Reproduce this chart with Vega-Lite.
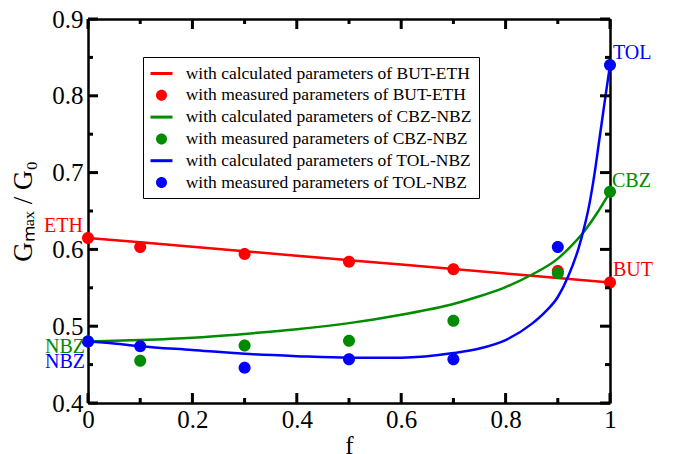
{
  "$schema": "https://vega.github.io/schema/vega-lite/v6.json",
  "width": 522,
  "height": 384,
  "autosize": "none",
  "padding": {"left": 88, "top": 19, "right": 68, "bottom": 51},
  "background": "white",
  "config": {
    "font": "Liberation Serif",
    "view": {"stroke": null},
    "axis": {
      "grid": false,
      "domainColor": "black",
      "domainWidth": 2.5,
      "labelFont": "Liberation Serif",
      "labelFontSize": 25,
      "labelColor": "black",
      "titleFont": "Liberation Serif",
      "titleFontSize": 25,
      "titleFontWeight": "normal",
      "titleColor": "black"
    }
  },
  "resolve": {
    "axis": {"x": "independent", "y": "independent"},
    "legend": {"color": "independent", "shape": "independent"}
  },
  "datasets": {
    "xticks": [
      {"v": 0.0, "kind": "major", "lo": 0.4, "hi": 0.9}, {"v": 0.1, "kind": "minor", "lo": 0.4, "hi": 0.9},
      {"v": 0.2, "kind": "major", "lo": 0.4, "hi": 0.9}, {"v": 0.3, "kind": "minor", "lo": 0.4, "hi": 0.9},
      {"v": 0.4, "kind": "major", "lo": 0.4, "hi": 0.9}, {"v": 0.5, "kind": "minor", "lo": 0.4, "hi": 0.9},
      {"v": 0.6, "kind": "major", "lo": 0.4, "hi": 0.9}, {"v": 0.7, "kind": "minor", "lo": 0.4, "hi": 0.9},
      {"v": 0.8, "kind": "major", "lo": 0.4, "hi": 0.9}, {"v": 0.9, "kind": "minor", "lo": 0.4, "hi": 0.9},
      {"v": 1.0, "kind": "major", "lo": 0.4, "hi": 0.9}
    ],
    "yticks": [
      {"v": 0.4, "kind": "major", "lo": 0, "hi": 1}, {"v": 0.45, "kind": "minor", "lo": 0, "hi": 1},
      {"v": 0.5, "kind": "major", "lo": 0, "hi": 1}, {"v": 0.55, "kind": "minor", "lo": 0, "hi": 1},
      {"v": 0.6, "kind": "major", "lo": 0, "hi": 1}, {"v": 0.65, "kind": "minor", "lo": 0, "hi": 1},
      {"v": 0.7, "kind": "major", "lo": 0, "hi": 1}, {"v": 0.75, "kind": "minor", "lo": 0, "hi": 1},
      {"v": 0.8, "kind": "major", "lo": 0, "hi": 1}, {"v": 0.85, "kind": "minor", "lo": 0, "hi": 1},
      {"v": 0.9, "kind": "major", "lo": 0, "hi": 1}
    ],
    "curves": [
      {"f": 0.0, "G": 0.615, "series": "with calculated parameters of BUT-ETH"},
      {"f": 0.1, "G": 0.6092, "series": "with calculated parameters of BUT-ETH"},
      {"f": 0.2, "G": 0.6034, "series": "with calculated parameters of BUT-ETH"},
      {"f": 0.3, "G": 0.5976, "series": "with calculated parameters of BUT-ETH"},
      {"f": 0.4, "G": 0.5918, "series": "with calculated parameters of BUT-ETH"},
      {"f": 0.5, "G": 0.586, "series": "with calculated parameters of BUT-ETH"},
      {"f": 0.6, "G": 0.5802, "series": "with calculated parameters of BUT-ETH"},
      {"f": 0.7, "G": 0.5744, "series": "with calculated parameters of BUT-ETH"},
      {"f": 0.8, "G": 0.5686, "series": "with calculated parameters of BUT-ETH"},
      {"f": 0.9, "G": 0.5628, "series": "with calculated parameters of BUT-ETH"},
      {"f": 1.0, "G": 0.557, "series": "with calculated parameters of BUT-ETH"},
      {"f": 0.0, "G": 0.480, "series": "with calculated parameters of CBZ-NBZ"},
      {"f": 0.1, "G": 0.482, "series": "with calculated parameters of CBZ-NBZ"},
      {"f": 0.2, "G": 0.485, "series": "with calculated parameters of CBZ-NBZ"},
      {"f": 0.3, "G": 0.490, "series": "with calculated parameters of CBZ-NBZ"},
      {"f": 0.4, "G": 0.496, "series": "with calculated parameters of CBZ-NBZ"},
      {"f": 0.5, "G": 0.504, "series": "with calculated parameters of CBZ-NBZ"},
      {"f": 0.6, "G": 0.515, "series": "with calculated parameters of CBZ-NBZ"},
      {"f": 0.7, "G": 0.529, "series": "with calculated parameters of CBZ-NBZ"},
      {"f": 0.75, "G": 0.539, "series": "with calculated parameters of CBZ-NBZ"},
      {"f": 0.8, "G": 0.551, "series": "with calculated parameters of CBZ-NBZ"},
      {"f": 0.85, "G": 0.567, "series": "with calculated parameters of CBZ-NBZ"},
      {"f": 0.9, "G": 0.588, "series": "with calculated parameters of CBZ-NBZ"},
      {"f": 0.925, "G": 0.604, "series": "with calculated parameters of CBZ-NBZ"},
      {"f": 0.95, "G": 0.623, "series": "with calculated parameters of CBZ-NBZ"},
      {"f": 0.975, "G": 0.647, "series": "with calculated parameters of CBZ-NBZ"},
      {"f": 1.0, "G": 0.675, "series": "with calculated parameters of CBZ-NBZ"},
      {"f": 0.0, "G": 0.480, "series": "with calculated parameters of TOL-NBZ"},
      {"f": 0.05, "G": 0.4775, "series": "with calculated parameters of TOL-NBZ"},
      {"f": 0.1, "G": 0.474, "series": "with calculated parameters of TOL-NBZ"},
      {"f": 0.2, "G": 0.469, "series": "with calculated parameters of TOL-NBZ"},
      {"f": 0.3, "G": 0.464, "series": "with calculated parameters of TOL-NBZ"},
      {"f": 0.4, "G": 0.461, "series": "with calculated parameters of TOL-NBZ"},
      {"f": 0.5, "G": 0.459, "series": "with calculated parameters of TOL-NBZ"},
      {"f": 0.6, "G": 0.459, "series": "with calculated parameters of TOL-NBZ"},
      {"f": 0.7, "G": 0.465, "series": "with calculated parameters of TOL-NBZ"},
      {"f": 0.75, "G": 0.471, "series": "with calculated parameters of TOL-NBZ"},
      {"f": 0.8, "G": 0.482, "series": "with calculated parameters of TOL-NBZ"},
      {"f": 0.85, "G": 0.503, "series": "with calculated parameters of TOL-NBZ"},
      {"f": 0.875, "G": 0.518, "series": "with calculated parameters of TOL-NBZ"},
      {"f": 0.9, "G": 0.538, "series": "with calculated parameters of TOL-NBZ"},
      {"f": 0.92, "G": 0.565, "series": "with calculated parameters of TOL-NBZ"},
      {"f": 0.94, "G": 0.602, "series": "with calculated parameters of TOL-NBZ"},
      {"f": 0.95, "G": 0.627, "series": "with calculated parameters of TOL-NBZ"},
      {"f": 0.96, "G": 0.657, "series": "with calculated parameters of TOL-NBZ"},
      {"f": 0.97, "G": 0.697, "series": "with calculated parameters of TOL-NBZ"},
      {"f": 0.98, "G": 0.745, "series": "with calculated parameters of TOL-NBZ"},
      {"f": 0.99, "G": 0.793, "series": "with calculated parameters of TOL-NBZ"},
      {"f": 1.0, "G": 0.840, "series": "with calculated parameters of TOL-NBZ"}
    ],
    "measured": [
      {"f": 0.0, "G": 0.615, "series": "with measured parameters of BUT-ETH"},
      {"f": 0.1, "G": 0.603, "series": "with measured parameters of BUT-ETH"},
      {"f": 0.3, "G": 0.594, "series": "with measured parameters of BUT-ETH"},
      {"f": 0.5, "G": 0.584, "series": "with measured parameters of BUT-ETH"},
      {"f": 0.7, "G": 0.574, "series": "with measured parameters of BUT-ETH"},
      {"f": 0.9, "G": 0.572, "series": "with measured parameters of BUT-ETH"},
      {"f": 1.0, "G": 0.557, "series": "with measured parameters of BUT-ETH"},
      {"f": 0.0, "G": 0.480, "series": "with measured parameters of CBZ-NBZ"},
      {"f": 0.1, "G": 0.455, "series": "with measured parameters of CBZ-NBZ"},
      {"f": 0.3, "G": 0.475, "series": "with measured parameters of CBZ-NBZ"},
      {"f": 0.5, "G": 0.481, "series": "with measured parameters of CBZ-NBZ"},
      {"f": 0.7, "G": 0.507, "series": "with measured parameters of CBZ-NBZ"},
      {"f": 0.9, "G": 0.569, "series": "with measured parameters of CBZ-NBZ"},
      {"f": 1.0, "G": 0.675, "series": "with measured parameters of CBZ-NBZ"},
      {"f": 0.0, "G": 0.480, "series": "with measured parameters of TOL-NBZ"},
      {"f": 0.1, "G": 0.474, "series": "with measured parameters of TOL-NBZ"},
      {"f": 0.3, "G": 0.446, "series": "with measured parameters of TOL-NBZ"},
      {"f": 0.5, "G": 0.457, "series": "with measured parameters of TOL-NBZ"},
      {"f": 0.7, "G": 0.457, "series": "with measured parameters of TOL-NBZ"},
      {"f": 0.9, "G": 0.603, "series": "with measured parameters of TOL-NBZ"},
      {"f": 1.0, "G": 0.840, "series": "with measured parameters of TOL-NBZ"}
    ],
    "labels": [
      {"f": 0.0, "G": 0.615, "label": "ETH", "system": "BUT-ETH"},
      {"f": 1.0, "G": 0.557, "label": "BUT", "system": "BUT-ETH"},
      {"f": 0.0, "G": 0.480, "label": "NBZ", "system": "CBZ-NBZ"},
      {"f": 1.0, "G": 0.675, "label": "CBZ", "system": "CBZ-NBZ"},
      {"f": 0.0, "G": 0.480, "label": "NBZ", "system": "TOL-NBZ"},
      {"f": 1.0, "G": 0.840, "label": "TOL", "system": "TOL-NBZ"}
    ]
  },
  "layer": [
    {
      "data": {"name": "curves"},
      "mark": {"type": "line", "strokeWidth": 2.5, "interpolate": "monotone"},
      "encoding": {
        "x": {
          "field": "f", "type": "quantitative",
          "scale": {"domain": [0, 1], "nice": false, "zero": false},
          "axis": {
            "orient": "bottom", "title": "f", "titlePadding": 1,
            "values": [0, 0.2, 0.4, 0.6, 0.8, 1], "format": "~g",
            "ticks": false, "labelPadding": 4, "labelFlush": false, "labelOverlap": false
          }
        },
        "y": {
          "field": "G", "type": "quantitative",
          "scale": {"domain": [0.4, 0.9], "nice": false, "zero": false},
          "axis": {
            "orient": "left", "title": "Gₘₐₓ / G₀", "titleFontSize": 27, "titlePadding": 14,
            "values": [0.4, 0.5, 0.6, 0.7, 0.8, 0.9], "format": ".1f",
            "ticks": false, "labelPadding": 5, "labelFlush": false, "labelOverlap": false
          }
        },
        "color": {
          "field": "series", "type": "nominal", "legend": null,
          "scale": {
            "domain": [
              "with calculated parameters of BUT-ETH", "with measured parameters of BUT-ETH",
              "with calculated parameters of CBZ-NBZ", "with measured parameters of CBZ-NBZ",
              "with calculated parameters of TOL-NBZ", "with measured parameters of TOL-NBZ"
            ],
            "range": ["#ff0000", "#ff0000", "#008b00", "#008b00", "#0000ff", "#0000ff"]
          }
        }
      }
    },
    {
      "data": {"name": "measured"},
      "mark": {"type": "point", "filled": true, "opacity": 1, "size": 357},
      "encoding": {
        "x": {
          "field": "f", "type": "quantitative",
          "axis": {"orient": "top", "title": null, "labels": false, "ticks": false}
        },
        "y": {
          "field": "G", "type": "quantitative",
          "axis": {"orient": "right", "title": null, "labels": false, "ticks": false}
        },
        "color": {
          "field": "series", "type": "nominal",
          "legend": {
            "orient": "none", "legendX": 55, "legendY": 38, "title": null,
            "symbolSize": 300, "symbolOffset": 2, "labelFontSize": 17.5, "labelFont": "Liberation Serif",
            "labelColor": "black", "labelOffset": 14.7, "rowPadding": 3.8, "padding": 7,
            "strokeColor": "black", "labelLimit": 0,
            "encode": {"legend": {"update": {"strokeWidth": {"value": 2}}}}
          }
        },
        "shape": {
          "field": "series", "type": "nominal",
          "scale": {
            "domain": [
              "with calculated parameters of BUT-ETH", "with measured parameters of BUT-ETH",
              "with calculated parameters of CBZ-NBZ", "with measured parameters of CBZ-NBZ",
              "with calculated parameters of TOL-NBZ", "with measured parameters of TOL-NBZ"
            ],
            "range": [
              "M-1.27,-0.173H1.27V0.173H-1.27Z", "M0.635,0A0.635,0.635,0,1,1,-0.635,0A0.635,0.635,0,1,1,0.635,0Z",
              "M-1.27,-0.173H1.27V0.173H-1.27Z", "M0.635,0A0.635,0.635,0,1,1,-0.635,0A0.635,0.635,0,1,1,0.635,0Z",
              "M-1.27,-0.173H1.27V0.173H-1.27Z", "M0.635,0A0.635,0.635,0,1,1,-0.635,0A0.635,0.635,0,1,1,0.635,0Z"
            ]
          },
          "legend": {
            "orient": "none", "legendX": 55, "legendY": 38, "title": null,
            "symbolSize": 300, "symbolOffset": 2, "labelFontSize": 17.5, "labelFont": "Liberation Serif",
            "labelColor": "black", "labelOffset": 14.7, "rowPadding": 3.8, "padding": 7,
            "strokeColor": "black", "labelLimit": 0,
            "encode": {"legend": {"update": {"strokeWidth": {"value": 2}}}}
          }
        }
      }
    },
    {
      "data": {"name": "xticks"},
      "transform": [{"filter": "datum.kind == 'major'"}],
      "mark": {"type": "point", "shape": "M-0.15,0V-1H0.15V0Z", "size": 400, "filled": true, "color": "black", "opacity": 1, "strokeWidth": 0},
      "encoding": {"x": {"field": "v", "type": "quantitative", "axis": null}, "y": {"field": "lo", "type": "quantitative", "axis": null}}
    },
    {
      "data": {"name": "xticks"},
      "transform": [{"filter": "datum.kind == 'minor'"}],
      "mark": {"type": "point", "shape": "M-0.15,0V-0.5H0.15V0Z", "size": 400, "filled": true, "color": "black", "opacity": 1, "strokeWidth": 0},
      "encoding": {"x": {"field": "v", "type": "quantitative", "axis": null}, "y": {"field": "lo", "type": "quantitative", "axis": null}}
    },
    {
      "data": {"name": "xticks"},
      "transform": [{"filter": "datum.kind == 'major'"}],
      "mark": {"type": "point", "shape": "M-0.15,0V1H0.15V0Z", "size": 400, "filled": true, "color": "black", "opacity": 1, "strokeWidth": 0},
      "encoding": {"x": {"field": "v", "type": "quantitative", "axis": null}, "y": {"field": "hi", "type": "quantitative", "axis": null}}
    },
    {
      "data": {"name": "xticks"},
      "transform": [{"filter": "datum.kind == 'minor'"}],
      "mark": {"type": "point", "shape": "M-0.15,0V0.5H0.15V0Z", "size": 400, "filled": true, "color": "black", "opacity": 1, "strokeWidth": 0},
      "encoding": {"x": {"field": "v", "type": "quantitative", "axis": null}, "y": {"field": "hi", "type": "quantitative", "axis": null}}
    },
    {
      "data": {"name": "yticks"},
      "transform": [{"filter": "datum.kind == 'major'"}],
      "mark": {"type": "point", "shape": "M0,-0.15H1V0.15H0Z", "size": 400, "filled": true, "color": "black", "opacity": 1, "strokeWidth": 0},
      "encoding": {"y": {"field": "v", "type": "quantitative", "axis": null}, "x": {"field": "lo", "type": "quantitative", "axis": null}}
    },
    {
      "data": {"name": "yticks"},
      "transform": [{"filter": "datum.kind == 'minor'"}],
      "mark": {"type": "point", "shape": "M0,-0.15H0.5V0.15H0Z", "size": 400, "filled": true, "color": "black", "opacity": 1, "strokeWidth": 0},
      "encoding": {"y": {"field": "v", "type": "quantitative", "axis": null}, "x": {"field": "lo", "type": "quantitative", "axis": null}}
    },
    {
      "data": {"name": "yticks"},
      "transform": [{"filter": "datum.kind == 'major'"}],
      "mark": {"type": "point", "shape": "M0,-0.15H-1V0.15H0Z", "size": 400, "filled": true, "color": "black", "opacity": 1, "strokeWidth": 0},
      "encoding": {"y": {"field": "v", "type": "quantitative", "axis": null}, "x": {"field": "hi", "type": "quantitative", "axis": null}}
    },
    {
      "data": {"name": "yticks"},
      "transform": [{"filter": "datum.kind == 'minor'"}],
      "mark": {"type": "point", "shape": "M0,-0.15H-0.5V0.15H0Z", "size": 400, "filled": true, "color": "black", "opacity": 1, "strokeWidth": 0},
      "encoding": {"y": {"field": "v", "type": "quantitative", "axis": null}, "x": {"field": "hi", "type": "quantitative", "axis": null}}
    },
    {
      "data": {"name": "labels"},
      "transform": [{"filter": "datum.label == 'ETH'"}],
      "mark": {"type": "text", "align": "right", "baseline": "alphabetic", "dx": -5, "dy": -6, "fontSize": 20, "color": "#ff0000"},
      "encoding": {"x": {"field": "f", "type": "quantitative", "axis": null}, "y": {"field": "G", "type": "quantitative", "axis": null}, "text": {"field": "label"}}
    },
    {
      "data": {"name": "labels"},
      "transform": [{"filter": "datum.label == 'BUT'"}],
      "mark": {"type": "text", "align": "left", "baseline": "alphabetic", "dx": 3, "dy": -6, "fontSize": 20, "color": "#ff0000"},
      "encoding": {"x": {"field": "f", "type": "quantitative", "axis": null}, "y": {"field": "G", "type": "quantitative", "axis": null}, "text": {"field": "label"}}
    },
    {
      "data": {"name": "labels"},
      "transform": [{"filter": "datum.label == 'NBZ' && datum.system == 'CBZ-NBZ'"}],
      "mark": {"type": "text", "align": "right", "baseline": "alphabetic", "dx": -3, "dy": 11, "fontSize": 20, "color": "#008b00"},
      "encoding": {"x": {"field": "f", "type": "quantitative", "axis": null}, "y": {"field": "G", "type": "quantitative", "axis": null}, "text": {"field": "label"}}
    },
    {
      "data": {"name": "labels"},
      "transform": [{"filter": "datum.label == 'NBZ' && datum.system == 'TOL-NBZ'"}],
      "mark": {"type": "text", "align": "right", "baseline": "alphabetic", "dx": -3, "dy": 26, "fontSize": 20, "color": "#0000ff"},
      "encoding": {"x": {"field": "f", "type": "quantitative", "axis": null}, "y": {"field": "G", "type": "quantitative", "axis": null}, "text": {"field": "label"}}
    },
    {
      "data": {"name": "labels"},
      "transform": [{"filter": "datum.label == 'CBZ'"}],
      "mark": {"type": "text", "align": "left", "baseline": "alphabetic", "dx": 2, "dy": -5, "fontSize": 20, "color": "#008b00"},
      "encoding": {"x": {"field": "f", "type": "quantitative", "axis": null}, "y": {"field": "G", "type": "quantitative", "axis": null}, "text": {"field": "label"}}
    },
    {
      "data": {"name": "labels"},
      "transform": [{"filter": "datum.label == 'TOL'"}],
      "mark": {"type": "text", "align": "left", "baseline": "alphabetic", "dx": 3, "dy": -6, "fontSize": 20, "color": "#0000ff"},
      "encoding": {"x": {"field": "f", "type": "quantitative", "axis": null}, "y": {"field": "G", "type": "quantitative", "axis": null}, "text": {"field": "label"}}
    }
  ]
}
